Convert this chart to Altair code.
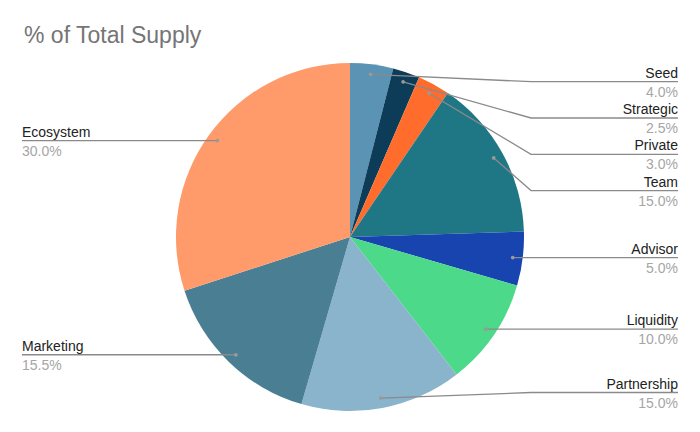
import math
import altair as alt
import pandas as pd

# ---- data ----
categories = ["Seed", "Strategic", "Private", "Team", "Advisor", "Liquidity",
              "Partnership", "Marketing", "Ecosystem"]
values = [4.0, 2.5, 3.0, 15.0, 5.0, 10.0, 15.0, 15.5, 30.0]
colors = ["#5a93b3", "#0c3c58", "#ff6c2c", "#1f7785", "#1844b0", "#4cd98a",
          "#8ab4cc", "#4a7e92", "#ff9a6b"]

# ---- layout constants (page pixel coordinates) ----
W, H = 684, 416
CX, CY = 350, 237
R = 174
R_DOT = 164
RIGHT_END, RIGHT_ELBOW = 678, 531
LEFT_END = 22
TOP_LIM, BOT_LIM, GAP = 81.7, 392.5, 36.3

total = sum(values)
rows = []
cum = 0.0
for i, (c, v) in enumerate(zip(categories, values)):
    mid = (cum + v / 2) / total * 2 * math.pi
    cum += v
    dx = CX + R_DOT * math.sin(mid)
    dy = CY - R_DOT * math.cos(mid)
    rows.append(dict(cat=c, val=v, order=i, mid=mid, dx=dx, dy=dy,
                     side="right" if math.sin(mid) >= 0 else "left"))

# simple label collision layout per side
for side in ["right", "left"]:
    items = [r for r in rows if r["side"] == side]
    items.sort(key=lambda r: r["dy"])
    prev = None
    for r in items:
        y = max(r["dy"], TOP_LIM)
        if prev is not None:
            y = max(y, prev + GAP)
        y = min(y, BOT_LIM)
        r["ly"] = y
        prev = y

line_rows, text_rows = [], []
for r in rows:
    if r["side"] == "right":
        pts = [(r["dx"], r["dy"]), (RIGHT_ELBOW, r["ly"]), (RIGHT_END, r["ly"])]
        tx, align = RIGHT_END, "right"
    else:
        pts = [(r["dx"], r["dy"]), (LEFT_END, r["ly"])]
        tx, align = LEFT_END, "left"
    for k, (px, py) in enumerate(pts):
        line_rows.append(dict(cat=r["cat"], k=k, x=px, y=py))
    text_rows.append(dict(cat=r["cat"], x=tx, y=r["ly"], align=align,
                          pct=f"{r['val']:.1f}%", dx=r["dx"], dy=r["dy"]))

pie_df = pd.DataFrame(rows)
line_df = pd.DataFrame(line_rows)
text_df = pd.DataFrame(text_rows)

xs = alt.Scale(domain=[8, 8 + W], nice=False, zero=False)
ys = alt.Scale(domain=[8, 8 + H], nice=False, zero=False, reverse=True)

pie = alt.Chart(pie_df).mark_arc(outerRadius=R).encode(
    theta=alt.Theta("val:Q", stack=True),
    order=alt.Order("order:Q"),
    color=alt.Color("cat:N", scale=alt.Scale(domain=categories, range=colors), legend=None),
    x=alt.value(CX - 8),
    y=alt.value(CY - 8),
)

lines = alt.Chart(line_df).mark_line(color="#8a8a8a", strokeWidth=1.3).encode(
    x=alt.X("x:Q", scale=xs, axis=None),
    y=alt.Y("y:Q", scale=ys, axis=None),
    detail="cat:N",
    order="k:Q",
)

dots = alt.Chart(text_df).mark_circle(color="#9a9a9a", opacity=1, size=14).encode(
    x=alt.X("dx:Q", scale=xs, axis=None),
    y=alt.Y("dy:Q", scale=ys, axis=None),
)

def labels(df, align):
    sub = df[df["align"] == align]
    base = alt.Chart(sub)
    names = base.mark_text(align=align, baseline="alphabetic", dy=-4, fontSize=14,
                           font="Liberation Sans", color="#222222").encode(
        x=alt.X("x:Q", scale=xs, axis=None), y=alt.Y("y:Q", scale=ys, axis=None),
        text="cat:N")
    pcts = base.mark_text(align=align, baseline="alphabetic", dy=15, fontSize=14,
                          font="Liberation Sans", color="#a6a6a6").encode(
        x=alt.X("x:Q", scale=xs, axis=None), y=alt.Y("y:Q", scale=ys, axis=None),
        text="pct:N")
    return names + pcts

title = alt.Chart(pd.DataFrame({"t": ["% of Total Supply"]})).mark_text(
    align="left", baseline="alphabetic", fontSize=23, font="Liberation Sans",
    color="#757575").encode(x=alt.value(24 - 8), y=alt.value(43 - 8), text="t:N")

chart = alt.layer(pie, lines, dots, labels(text_df, "right"), labels(text_df, "left"), title).properties(
    width=W, height=H, padding=0, autosize=alt.AutoSizeParams(type="none"),
    background="white"
).configure_view(stroke=None, strokeWidth=0)

chart.save("out.html", embed_options={"renderer": "svg", "actions": False})
